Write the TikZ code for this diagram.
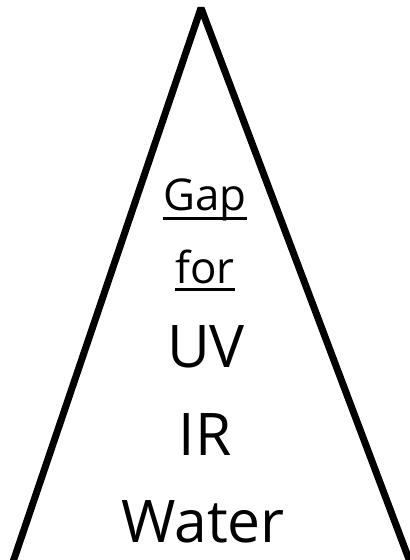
\documentclass[tikz,border=0pt]{standalone}
\usepackage{fontspec}
\setmainfont{Open Sans}
\begin{document}
\begin{tikzpicture}[x=1bp,y=-1bp,
  side/.style={line width=7bp,line join=bevel,line cap=butt},
  big/.style={anchor=base,inner sep=0pt,font=\fontsize{59}{59}\selectfont},
  small/.style={anchor=base,inner sep=0pt,font=\fontsize{44}{44}\selectfont},
  uline/.style={line width=3bp}]
\useasboundingbox (0,0) rectangle (409,560);
\coordinate (apex) at (201,8);
\coordinate (bl) at (13,562);
\coordinate (br) at (410,562);
\draw[side] (bl) -- (apex) -- (br);
\node[small] (gap) at (205,211) {Gap};
\node[small] (for) at (205,283) {for};
\node[big] (uv) at (206,367) {UV};
\node[big] (ir) at (205,455) {IR};
\node[big] (water) at (203,542) {Water};
\draw[uline] ([yshift=-7bp]gap.base west) -- ([yshift=-7bp]gap.base east);
\draw[uline] ([yshift=-6bp]for.base west) -- ([yshift=-6bp]for.base east);
\end{tikzpicture}
\end{document}
